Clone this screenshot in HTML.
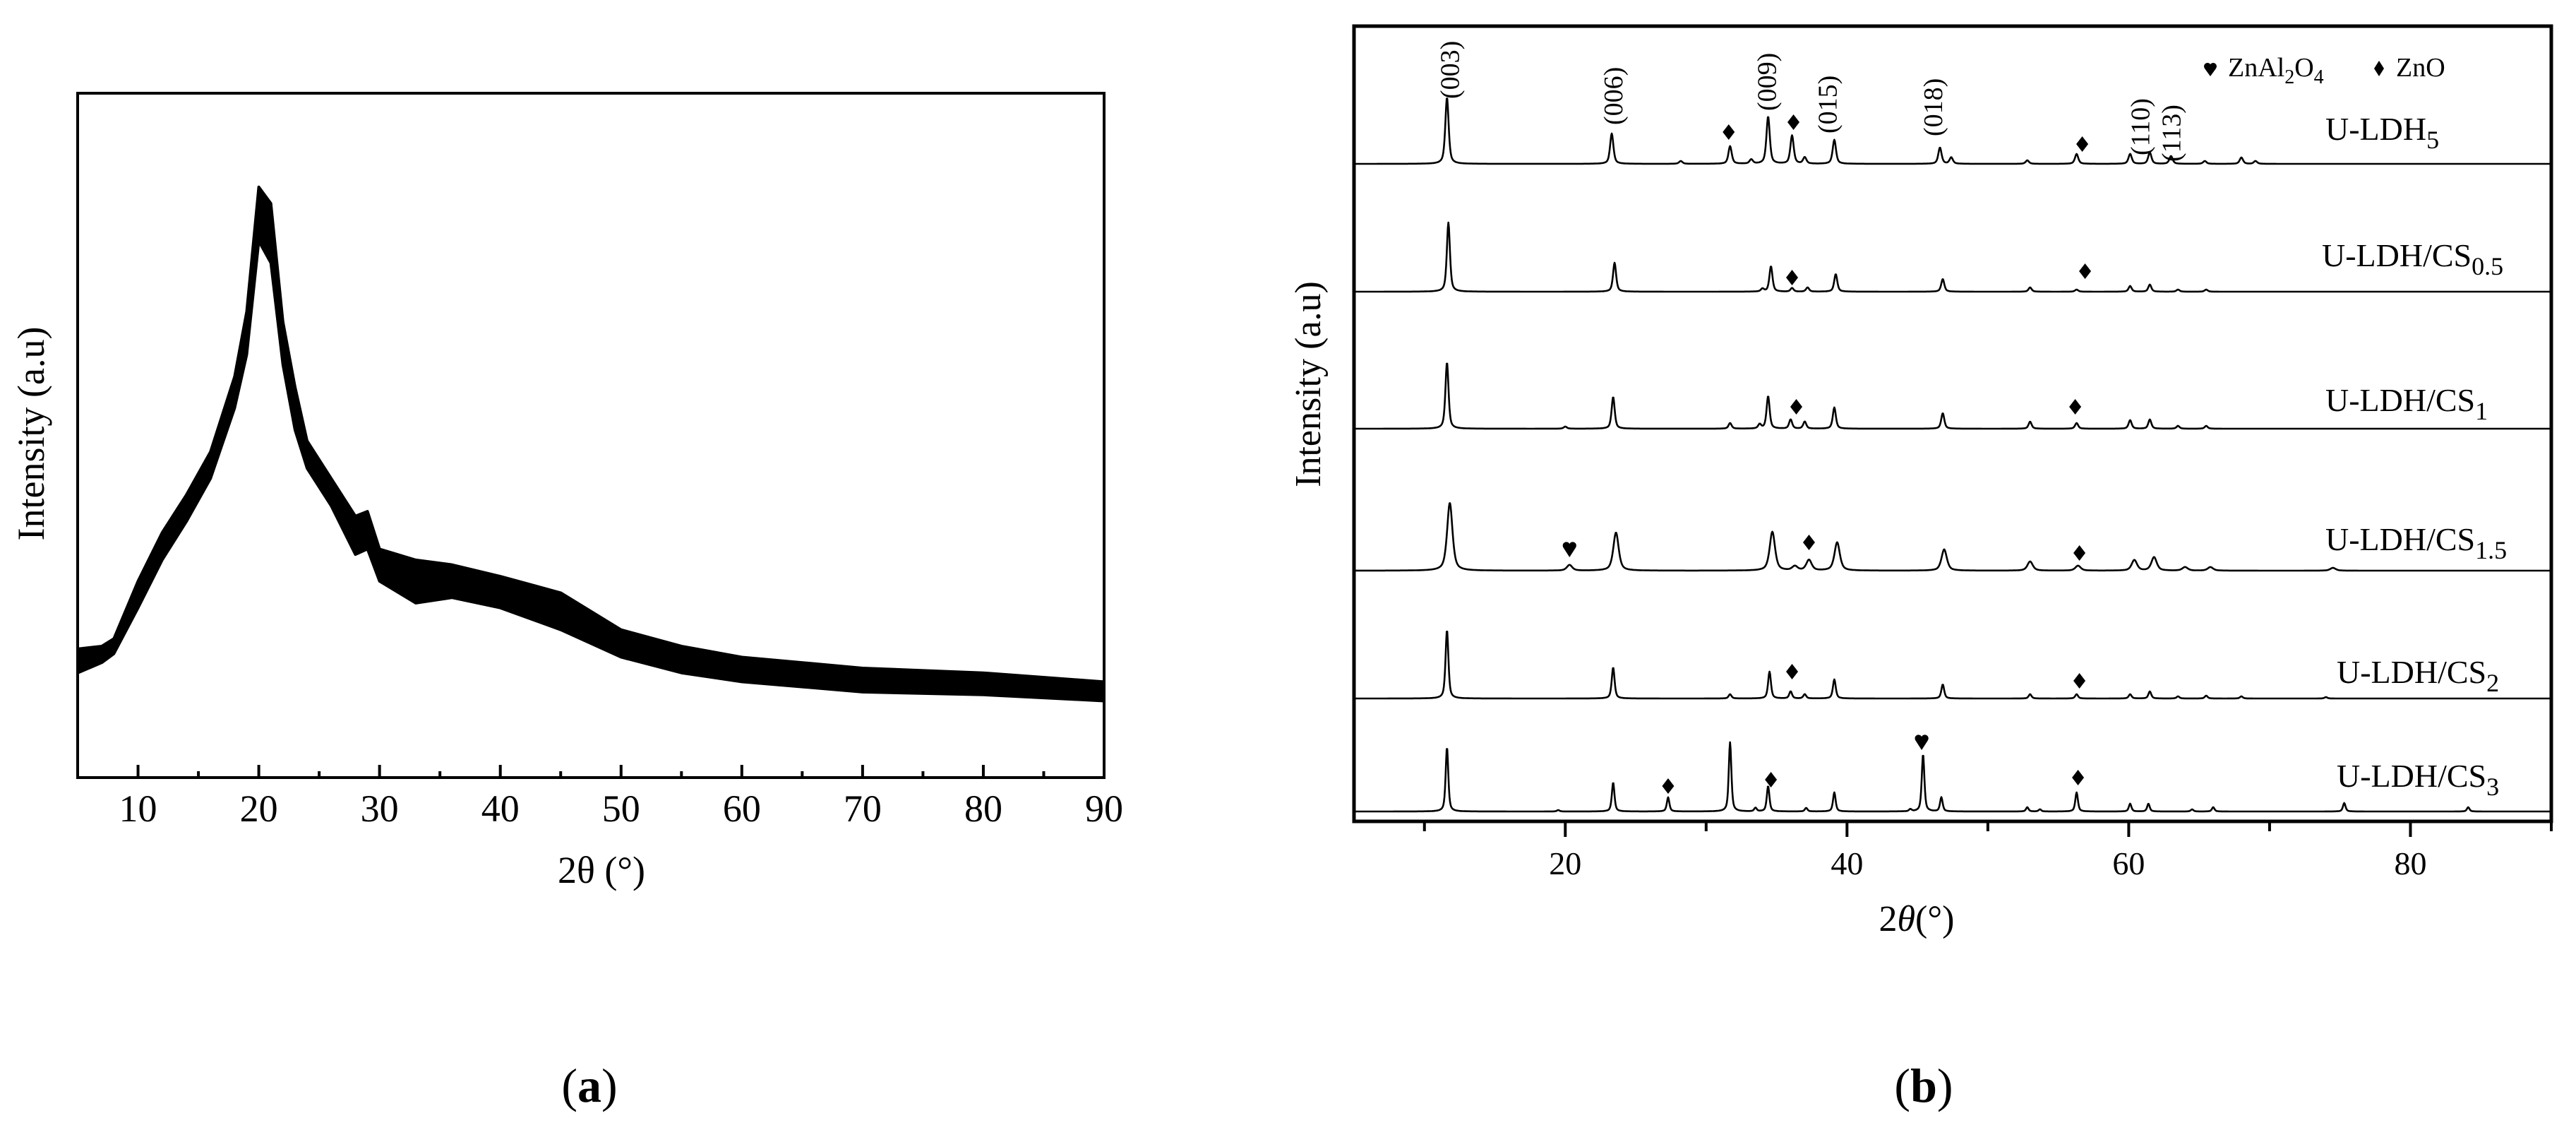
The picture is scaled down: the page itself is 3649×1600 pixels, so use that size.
<!DOCTYPE html>
<html><head><meta charset="utf-8"><style>
html,body{margin:0;padding:0;background:#fff;}
svg{display:block;font-family:"Liberation Serif",serif;}
</style></head><body>
<svg id="fig" width="3649" height="1600" viewBox="0 0 3649 1600" xmlns="http://www.w3.org/2000/svg">
<g id="panelA"></g>
<g id="panelB"></g>
<text x="835" y="1560" font-size="68" text-anchor="middle">(<tspan font-weight="bold">a</tspan>)</text>
<text x="2725" y="1560" font-size="68" text-anchor="middle">(<tspan font-weight="bold">b</tspan>)</text>
</svg>
<script>
// ---------- Panel A data ----------
const aAngles = [5,7,8,10,12,14,16,18,19,20,21,22,23,24,26,28,29,30,33,36,40,45,50,55,60,70,80,90];
const aUpper  = [18.8,19.2,20.3,28.7,35.8,41.3,47.6,58.6,68.1,86.3,83.9,66.6,57.1,49.2,43.7,38.2,38.9,33.4,31.8,31.1,29.4,27.0,21.6,19.2,17.6,16.0,15.3,14.0];
const aLower  = [15.3,16.8,18.1,24.8,31.8,37.4,43.7,54.0,61.8,78.4,75.2,60.3,50.8,45.2,39.7,32.6,33.4,28.7,25.5,26.3,24.8,21.6,17.6,15.3,14.0,12.5,12.1,11.2];
const aMajorTicks = [10,20,30,40,50,60,70,80,90];
const aMinorTicks = [15,25,35,45,55,65,75,85];

// ---------- Panel B data ----------
const bSeriesNames = ["U-LDH5","U-LDH/CS0.5","U-LDH/CS1","U-LDH/CS1.5","U-LDH/CS2","U-LDH/CS3"];
const bOffsets = [232,413,607,808,989,1149];
const ldh5Pos = [11.6,23.3,28.2,31.7,33.2,34.4,36.1,37.0,39.1,46.6,47.4,52.8,56.3,60.1,61.5,63.0,65.4,68.0,69.0];
const ldh5Amp = [94,43,4,25,6,67,40,9,34,23,9,5,14,14,16,11,4,9,4];
const cs05Pos = [11.7,23.5,34.0,34.6,36.1,37.2,39.2,46.8,53.0,56.3,60.1,61.5,63.5,65.5];
const cs05Amp = [98,41,4,36,5,6,25,18,6,3,8,10,3,3];
const cs1Pos = [11.6,20.0,23.4,31.7,33.8,34.4,36.0,37.0,39.1,46.8,53.0,56.3,60.1,61.5,63.5,65.5];
const cs1Amp = [94,3,45,8,6,46,13,10,30,22,10,8,12,13,4,4];
const cs15Pos = [11.8,20.3,23.6,34.7,36.3,37.3,39.3,46.9,53.0,56.4,60.4,61.8,64.0,65.8,74.5];
const cs15Amp = [96,8,54,55,6,15,40,30,13,7,15,19,5,5,4];
const cs2Pos = [11.6,23.4,31.7,34.5,36.0,37.0,39.1,46.8,53.0,56.3,60.1,61.5,63.5,65.5,68,74];
const cs2Amp = [97,44,6,38,10,6,27,20,6,6,6,10,3,4,3,2];
const cs3Pos = [11.6,19.5,23.4,27.3,31.7,33.5,34.4,37.1,39.1,44.5,45.4,46.7,52.8,53.7,56.3,60.1,61.4,64.5,66.0,75.3,84.1];
const cs3Amp = [91,2,41,20,98,5,36,5,27,3,81,20,6,3,27,11,11,3,6,12,6];
const bWidths = [0.28,0.26,0.26,0.45,0.24,0.22];
const bMajorTicks = [20,40,60,80];
const bMinorTicks = [10,30,50,70,90];
const hklLabels = ["(003)","(006)","(009)","(015)","(018)","(110)","(113)"];
const hklAngle  = [11.8,23.4,34.3,38.6,46.1,60.8,63.0];
const hklHeight = [92,55,75,43,39,12,3];
const markerSeries = [0,0,0,1,1,2,2,3,3,3,4,4,5,5,5,5];
const markerAngle  = [31.6,36.2,56.7,36.1,56.9,36.4,56.2,20.3,37.3,56.5,36.1,56.5,27.3,34.6,45.3,56.4];
const markerHeight = [45,59,28,20,29,31,31,31,40,25,38,25,36,45,99,48];
const markerType   = ["d","d","d","d","d","d","d","h","d","d","d","d","d","d","h","d"];

const NS="http://www.w3.org/2000/svg";
function mk(tag, attrs, parent, txt){const e=document.createElementNS(NS,tag);for(const k in attrs)e.setAttribute(k,attrs[k]);if(txt!==undefined)e.textContent=txt;parent.appendChild(e);return e;}

// ---------- Panel A ----------
const A=document.getElementById('panelA');
const aL=110,aR=1564,aT=132,aB=1101;
const ax=v=>aL+(v-5)/85*(aR-aL);
const ay=v=>aB-v/100*(aB-aT);
{
 let d="M"+aAngles.map((a,i)=>ax(a)+","+ay(aUpper[i])).join(" L");
 for(let i=aAngles.length-1;i>=0;i--) d+=" L"+ax(aAngles[i])+","+ay(aLower[i]);
 d+=" Z";
 const band=mk('path',{d:d,fill:"#000",stroke:"#000","stroke-width":4,"stroke-linejoin":"round"},A);
 
 
}
const aFrame=mk('rect',{x:aL,y:aT,width:aR-aL,height:aB-aT,fill:"none",stroke:"#000","stroke-width":4},A);


aMajorTicks.forEach(t=>{
 const l=mk('line',{x1:ax(t),x2:ax(t),y1:aB,y2:aB-18,stroke:"#000","stroke-width":4},A);
 
 
 const tx=mk('text',{x:ax(t),y:1163,"font-size":54,"text-anchor":"middle"},A,String(t));
 
 
});
aMinorTicks.forEach(t=>{
 const l=mk('line',{x1:ax(t),x2:ax(t),y1:aB,y2:aB-9,stroke:"#000","stroke-width":4},A);
 
 
});
{
 const t=mk('text',{x:852,y:1250,"font-size":54,"text-anchor":"middle"},A,"2θ (°)");
 
 
 const y=mk('text',{x:0,y:0,"font-size":54,"text-anchor":"middle",transform:"translate(62,614) rotate(-90)"},A,"Intensity (a.u)");
 
 
}

// ---------- Panel B ----------
const B=document.getElementById('panelB');
const bL=1918,bR=3614,bT=37,bB=1163;
const bx=v=>bL+(v-5)/85*(bR-bL);
const bPos=[ldh5Pos,cs05Pos,cs1Pos,cs15Pos,cs2Pos,cs3Pos];
const bAmp=[ldh5Amp,cs05Amp,cs1Amp,cs15Amp,cs2Amp,cs3Amp];
function profile(s,a){
 let y=0;const w=bWidths[s]/2;
 bPos[s].forEach((p,i)=>{const d=(a-p)/w;y+=bAmp[s][i]*(0.6/(1+d*d)+0.4*Math.exp(-0.693*d*d));});
 return y;
}
bSeriesNames.forEach((nm,s)=>{
 const pts=[];
 for(let a=5.1;a<=90;a+=0.04){pts.push(bx(a).toFixed(1)+","+(bOffsets[s]-profile(s,a)).toFixed(1));}
 const p=mk('path',{d:"M"+pts.join(" L"),fill:"none",stroke:"#000","stroke-width":2.6,"stroke-linejoin":"round"},B);
 
 
});
const labelX=[3294,3289,3294,3294,3310,3310];
const labelY=[198,377,582,779,967,1114];
const labelMain=["U-LDH","U-LDH/CS","U-LDH/CS","U-LDH/CS","U-LDH/CS","U-LDH/CS"];
const labelSub=["5","0.5","1","1.5","2","3"];
bSeriesNames.forEach((nm,s)=>{
 const t=mk('text',{x:labelX[s],y:labelY[s],"font-size":46},B);
 
 
 mk('tspan',{},t,labelMain[s]);
 mk('tspan',{dy:12,"font-size":36},t,labelSub[s]);
});
hklLabels.forEach((h,i)=>{
 const x=bx(hklAngle[i])+13, y=bOffsets[0]-hklHeight[i];
 const t=mk('text',{x:0,y:0,"font-size":38,"text-anchor":"start",transform:`translate(${x},${y}) rotate(-90)`},B,h);
 
 
});
markerAngle.forEach((a,i)=>{
 const cx=bx(a), cy=bOffsets[markerSeries[i]]-markerHeight[i];
 let m;
 if(markerType[i]==="d"){
  m=mk('path',{d:`M${cx},${cy-11} L${cx+8.5},${cy} L${cx},${cy+11} L${cx-8.5},${cy} Z`,fill:"#000"},B);
  
 } else {
  m=mk('path',{d:`M${cx},${cy+12} L${cx-9},${cy-2} A5,5 0 0 1 ${cx},${cy-7} A5,5 0 0 1 ${cx+9},${cy-2} Z`,fill:"#000"},B);
  
 }
 
});
const bFrame=mk('rect',{x:bL,y:bT,width:bR-bL,height:bB-bT,fill:"none",stroke:"#000","stroke-width":5},B);


bMajorTicks.forEach(t=>{
 const l=mk('line',{x1:bx(t),x2:bx(t),y1:bB,y2:bB+22,stroke:"#000","stroke-width":4},B);
 
 
 const tx=mk('text',{x:bx(t),y:1238,"font-size":46,"text-anchor":"middle"},B,String(t));
 
 
});
bMinorTicks.forEach(t=>{
 const l=mk('line',{x1:bx(t),x2:bx(t),y1:bB,y2:bB+14,stroke:"#000","stroke-width":4},B);
 
 
});
{
 const t=mk('text',{x:2715,y:1318,"font-size":52,"text-anchor":"middle"},B);
 
 
 mk('tspan',{},t,"2");
 mk('tspan',{"font-style":"italic"},t,"θ");
 mk('tspan',{},t,"(°)");
 const y=mk('text',{x:0,y:0,"font-size":52,"text-anchor":"middle",transform:"translate(1870,544) rotate(-90)"},B,"Intensity (a.u)");
 
 
 const h=mk('path',{d:"M3131,108 L3123,97 A4.5,4.5 0 0 1 3131,91 A4.5,4.5 0 0 1 3139,97 Z",fill:"#000"},B);
 
 
 const lt=mk('text',{x:3156,y:108,"font-size":38},B);
 
 
 mk('tspan',{},lt,"ZnAl");
 mk('tspan',{dy:10,"font-size":28},lt,"2");
 mk('tspan',{dy:-10},lt,"O");
 mk('tspan',{dy:10,"font-size":28},lt,"4");
 const d=mk('path',{d:"M3370,86 L3377,97 L3370,108 L3363,97 Z",fill:"#000"},B);
 
 
 const zt=mk('text',{x:3394,y:108,"font-size":38},B,"ZnO");
 
 
}
</script>
</body></html>
